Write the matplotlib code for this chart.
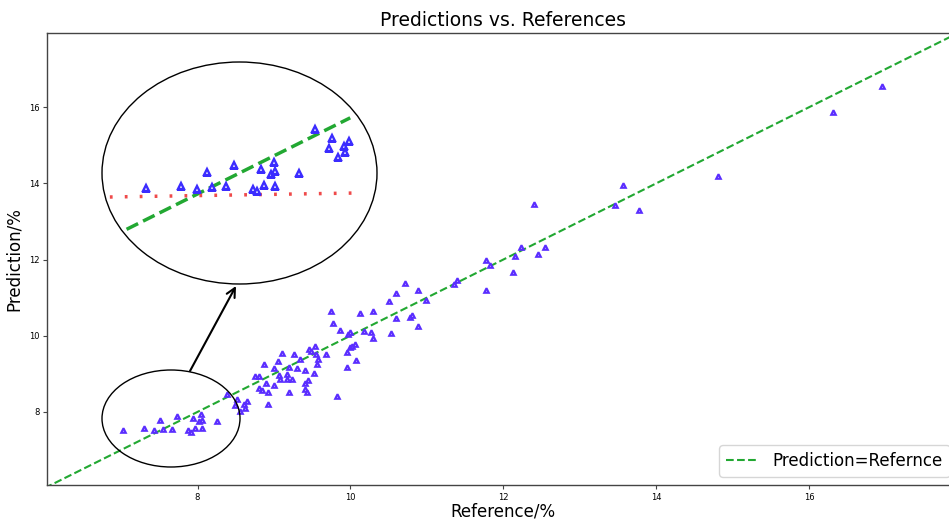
import matplotlib
matplotlib.use("Agg")
import matplotlib.pyplot as plt
from matplotlib.patches import Ellipse
from matplotlib.transforms import Affine2D

# reference value vs model prediction, in %
reference = [7.02, 7.30, 7.43, 7.51, 7.55, 7.66, 7.73, 7.88, 7.91, 7.94,
             7.97, 8.02, 8.05, 8.06, 8.06, 8.25, 8.38, 8.51, 8.49, 8.56,
             8.61, 8.62, 8.65, 8.87, 8.75, 8.80, 8.80, 8.84, 8.92, 8.92,
             8.90, 9.00, 9.00, 9.05, 9.06, 9.08, 9.10, 9.17, 9.17, 9.19,
             9.20, 9.24, 9.26, 9.30, 9.34, 9.40, 9.41, 9.41, 9.43, 9.44,
             9.46, 9.49, 9.52, 9.54, 9.55, 9.56, 9.57, 9.68, 9.75, 9.77,
             9.82, 9.87, 9.95, 9.95, 9.97, 9.99, 9.99, 10.02, 10.06, 10.07,
             10.13, 10.18, 10.27, 10.29, 10.29, 10.50, 10.53, 10.59, 10.60, 10.78,
             10.81, 10.89, 10.99, 10.71, 10.89, 11.35, 11.40, 11.78, 11.78, 11.82,
             12.13, 12.15, 12.23, 12.46, 12.55, 12.40, 13.46, 13.57, 13.78, 14.81,
             16.32, 16.96]
prediction = [7.53, 7.57, 7.52, 7.79, 7.55, 7.56, 7.90, 7.52, 7.48, 7.83,
              7.58, 7.76, 7.95, 7.80, 7.57, 7.77, 8.48, 8.34, 8.18, 8.03,
              8.21, 8.11, 8.29, 9.27, 8.95, 8.95, 8.63, 8.58, 8.53, 8.21,
              8.77, 8.70, 9.16, 9.34, 8.96, 8.86, 9.55, 8.99, 8.86, 9.18,
              8.51, 8.86, 9.51, 9.15, 9.39, 8.60, 9.09, 8.76, 8.52, 8.85,
              9.65, 9.61, 9.02, 9.73, 9.51, 9.26, 9.39, 9.52, 10.65, 10.34,
              8.42, 10.16, 9.19, 9.56, 10.04, 10.10, 9.70, 9.73, 9.78, 9.36,
              10.60, 10.13, 10.09, 10.66, 9.94, 10.90, 10.07, 11.13, 10.47, 10.50,
              10.54, 10.26, 10.95, 11.39, 11.21, 11.35, 11.47, 11.99, 11.21, 11.85,
              11.68, 12.10, 12.32, 12.15, 12.32, 13.47, 13.44, 13.95, 13.29, 14.20,
              15.88, 16.56]

# y = x line
diag = [6.0, 18.0]
# pieces drawn inside the magnifier
zoom_diag = [6.6, 8.66]
fit_x = [6.73, 8.73]
fit_y = [7.385, 7.45]

ticks = [8, 10, 12, 14, 16]

W, H = 949, 520
fig = plt.figure(figsize=(W / 100, H / 100), dpi=100)
# pixel coords, origin top left
pix = Affine2D().scale(1.0 / W, -1.0 / H).translate(0, 1) + fig.transFigure

ax = fig.add_axes([47 / W, 1 - 485 / H, (958 - 47) / W, (485 - 33) / H])
ax.plot(diag, diag, '--', color='#22a832', lw=1.5, label='Prediction=Refernce')
ax.plot(reference, prediction, '^', ls='none', ms=3.3, mfc='#d9ceff',
        mec='#5a2dff', mew=1.5)
ax.set_xlim(6.03, 17.95)
ax.set_ylim(6.08, 17.95)
ax.set_xticks(ticks)
ax.set_yticks(ticks)
ax.tick_params(labelsize=6, length=3, pad=2.5, color='#444444')
for s in ax.spines.values():
    s.set_color('#444444')
    s.set_linewidth(1)
ax.set_title('Predictions vs. References', fontsize=13.5, pad=5)
ax.set_xlabel('Reference/%', fontsize=12, labelpad=0.5)
ax.set_ylabel('Prediction/%', fontsize=12, labelpad=4)
ax.legend(loc='lower right', fontsize=12)

# circle round the low cluster and arrow up to the magnifier
fig.add_artist(Ellipse((171, 418.5), 138, 97, transform=pix, fill=False,
                       ec='black', lw=1))
ax.annotate('', xy=(236, 286), xytext=(190, 371), xycoords=pix, textcoords=pix,
            annotation_clip=False,
            arrowprops=dict(arrowstyle='->', color='black', lw=1.5,
                            mutation_scale=16, shrinkA=0, shrinkB=0))

# magnified view
axz = fig.add_axes([102 / W, 1 - 284 / H, 275 / W, 222 / H])
axz.set_xlim(6.667, 8.875)
axz.set_ylim(5.984, 9.559)
axz.axis('off')
lens = Ellipse((0.5, 0.5), 1, 1, transform=axz.transAxes, fc='white',
               ec='black', lw=1, clip_on=False, zorder=0)
axz.add_patch(lens)
l1, = axz.plot(zoom_diag, zoom_diag, '--', color='#22a832', lw=2.5)
l2, = axz.plot(fit_x, fit_y, ls=(0, (0.8, 3.5)), color='#ef4a4a', lw=2.5)
l3, = axz.plot(reference, prediction, '^', ls='none', ms=5, mfc='white',
               mec='#3b2cff', mew=1.7)
for a in (l1, l2, l3):
    a.set_clip_path(lens)

fig.savefig('out.png', dpi=100)
